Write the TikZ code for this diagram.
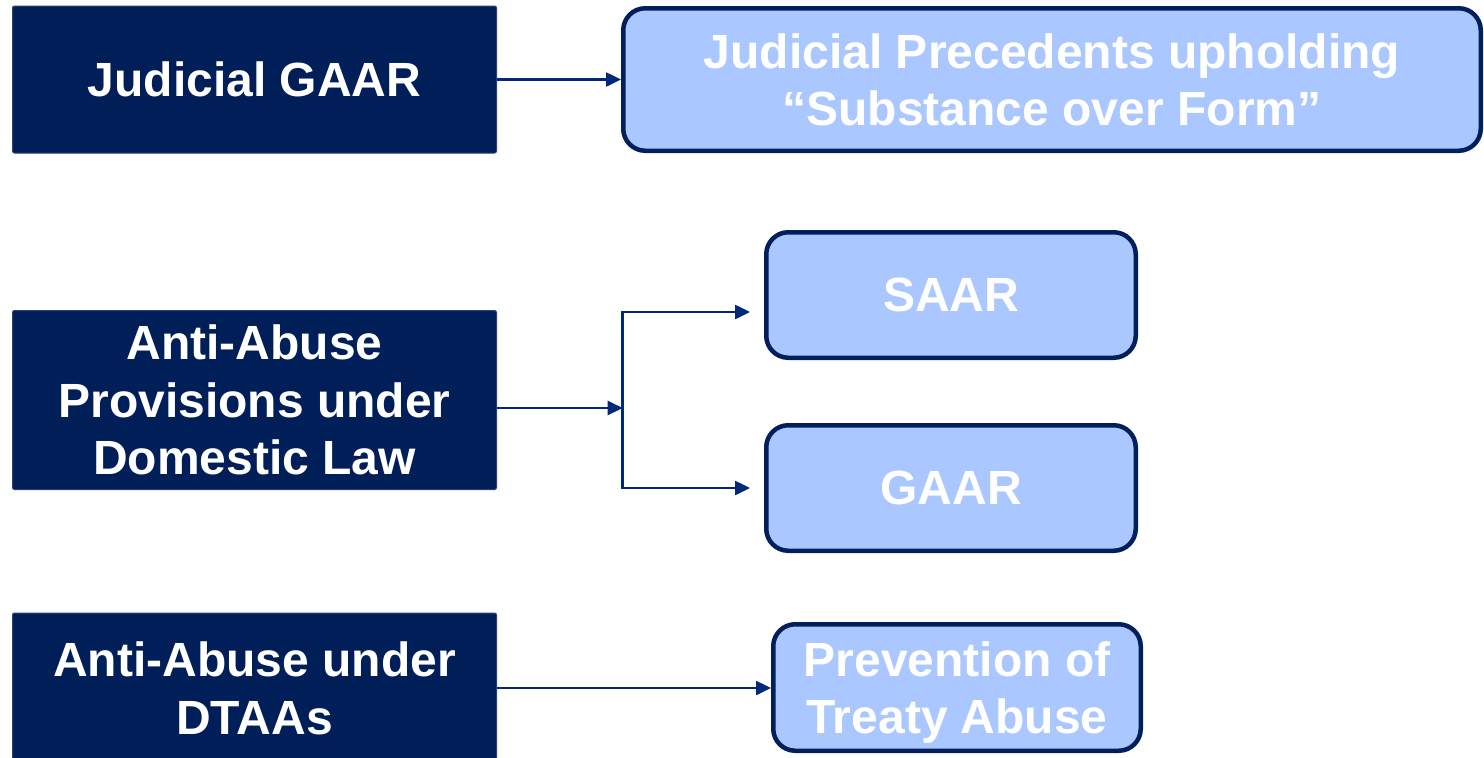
\documentclass[tikz,border=0pt]{standalone}
\usepackage{fontspec}
\setmainfont{Liberation Sans}
\usetikzlibrary{arrows.meta}
\definecolor{navyfill}{RGB}{0,30,88}
\definecolor{navyedge}{RGB}{44,66,116}
\definecolor{paleblue}{RGB}{170,200,255}
\definecolor{rimblue}{RGB}{0,31,92}
\definecolor{linkblue}{RGB}{0,41,122}
\begin{document}
\begin{tikzpicture}[x=1pt,y=-1pt,
  boxfont/.style={font=\bfseries\fontsize{48}{57.5}\selectfont},
  darkbox/.style={boxfont, fill=navyfill, draw=navyedge, line width=1pt,
    rounded corners=2pt, text=white, align=center, text depth=0pt,
    inner sep=0pt, minimum width=484pt},
  palebox/.style={boxfont, fill=paleblue, draw=rimblue, line width=4.5pt,
    rounded corners=22pt, text=white, align=center, text depth=0pt,
    inner sep=0pt},
  link/.style={draw=linkblue, line width=2.5pt,
    -{Triangle[length=15pt,width=14pt]}},
  forklink/.style={draw=linkblue, line width=2.5pt,
    {Triangle[length=15pt,width=14pt]}-{Triangle[length=15pt,width=14pt]}}]

\path[use as bounding box, clip] (0,0) rectangle (1484,758);

% left column: categories
\node[darkbox, minimum height=147pt] (judicial) at (254.5,79.5) {Judicial GAAR};
\node[darkbox, minimum height=179pt] (domestic) at (254.5,400) {Anti-Abuse\\Provisions under\\Domestic Law};
\node[darkbox, minimum height=150pt] (treaty) at (254.5,688) {Anti-Abuse under\\DTAAs};

% right column: instruments
\node[palebox, minimum width=857.5pt, minimum height=142.5pt] (precedents) at (1052,79.5)
  {Judicial Precedents upholding\\“Substance over Form”};
\node[palebox, minimum width=369.5pt, minimum height=125.5pt] (saar) at (951,295) {SAAR};
\node[palebox, minimum width=369.5pt, minimum height=125.5pt] (gaar) at (951,488) {GAAR};
\node[palebox, minimum width=367.5pt, minimum height=126.5pt] (pota) at (957,687.5)
  {Prevention of\\Treaty Abuse};

% connectors
\draw[link] (judicial.east) -- (judicial.east -| precedents.west);

\coordinate (fork) at (622.7,408);
\coordinate (forktop) at (622.7,312);
\coordinate (forkbot) at (622.7,488);
\coordinate (saarin) at (750,312);
\coordinate (gaarin) at (750,488);
\draw[link] (domestic.east |- fork) -- (fork);
\draw[forklink] (saarin) -- (forktop) -- (forkbot) -- (gaarin);

\draw[link] (treaty.east) -- (treaty.east -| pota.west);
\end{tikzpicture}
\end{document}
